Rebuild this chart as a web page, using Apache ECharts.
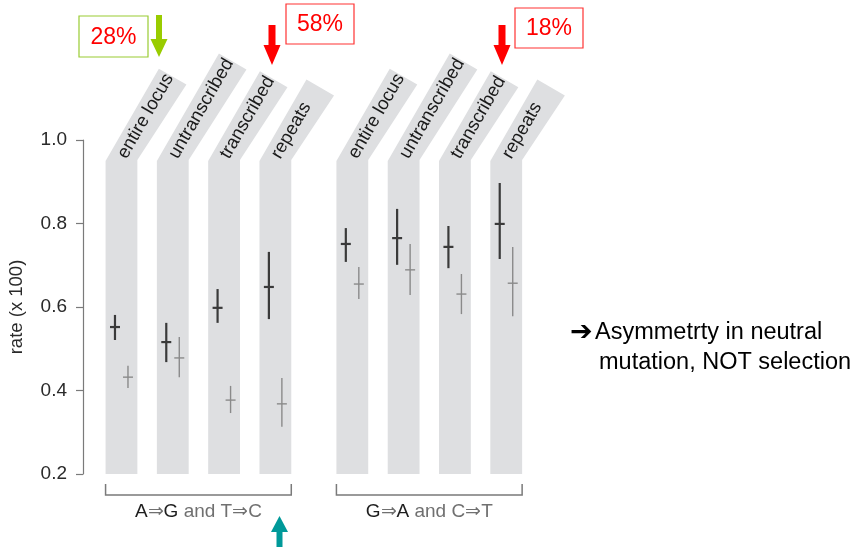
<!DOCTYPE html>
<html>
<head>
<meta charset="utf-8">
<script src="https://cdn.jsdelivr.net/npm/echarts@6/dist/echarts.min.js"></script>
<style>
  html, body { margin: 0; padding: 0; background: #ffffff; }
  #chart { width: 858px; height: 547px; }
</style>
</head>
<body>
<div id="chart"></div>
<script>
// Genomic regions shown in each panel group
const regionNames = ['entire locus', 'untranscribed', 'transcribed', 'repeats'];
// Position of each column on the horizontal value axis (gap between the two groups)
const columnPositions = [0, 1, 2, 3, 4.5, 5.5, 6.5, 7.5];
// Substitution groups: first/last column index and the rich-text label
const groupSpans = [[0, 3], [4, 7]];
const groupTexts = [
  '{k|A}{g|\u21D2}{k|G}{g| and T\u21D2C}',
  '{k|G}{g|\u21D2}{k|A}{g| and C\u21D2T}'
];
// y axis ticks
const yTicks = [0.2, 0.4, 0.6, 0.8, 1.0];

// First (dark) estimate per column: mean, lower and upper bound
const darkMean = [0.552, 0.516, 0.598, 0.648, 0.751, 0.765, 0.744, 0.799];
const darkLow  = [0.521, 0.468, 0.562, 0.571, 0.708, 0.701, 0.693, 0.715];
const darkHigh = [0.581, 0.562, 0.643, 0.732, 0.789, 0.835, 0.794, 0.897];
// Second (light) estimate per column
const lightMean = [0.432, 0.478, 0.377, 0.368, 0.655, 0.689, 0.631, 0.657];
const lightLow  = [0.406, 0.432, 0.346, 0.313, 0.619, 0.629, 0.583, 0.578];
const lightHigh = [0.459, 0.528, 0.411, 0.430, 0.696, 0.751, 0.679, 0.744];

// Percentage call-outs
const calloutTexts = ['28%', '58%', '18%'];
const noteLines = ['Asymmetrty in neutral', 'mutation, NOT selection'];

const FONT = '"Liberation Sans", Arial, Helvetica, sans-serif';
const BAND_COLOR = '#dedfe1';
const LABEL_SIZE = 18.5;
const ANGLE = Math.PI / 3;           // slant of the column heads
const BAND_UNITS = 0.62;             // column width in axis units

const measureCtx = document.createElement('canvas').getContext('2d');
function textWidth(str, size) {
  measureCtx.font = size + 'px ' + FONT;
  return measureCtx.measureText(str).width;
}

const columnData = columnPositions.map((p, i) => [p, i % regionNames.length]);
const darkData = columnPositions.map((p, i) => [p, darkMean[i], darkLow[i], darkHigh[i]]);
const lightData = columnPositions.map((p, i) => [p, lightMean[i], lightLow[i], lightHigh[i]]);
const groupData = groupSpans.map((s, i) => [columnPositions[s[0]], columnPositions[s[1]], i]);

// Grey column with a slanted head carrying the region name
function renderColumn(params, api) {
  const x = api.value(0);
  const name = regionNames[api.value(1)];
  const bottom = api.coord([x, yTicks[0]]);
  const top = api.coord([x, yTicks[yTicks.length - 1]]);
  const half = api.size([BAND_UNITS, 0])[0] / 2;
  const cx = bottom[0];
  const yb = top[1] + 21;
  const dir = [Math.cos(ANGLE), -Math.sin(ANGLE)];
  const perp = [Math.sin(ANGLE), Math.cos(ANGLE)];
  const w = textWidth(name, LABEL_SIZE);
  const len = Math.max(w + 12, 94);
  const bl = [cx - half, yb];
  const tl = [bl[0] + dir[0] * len, bl[1] + dir[1] * len];
  const tr = [tl[0] + perp[0] * 2 * half, tl[1] + perp[1] * 2 * half];
  const br = [cx + half, yb - 1];
  const start = [cx + dir[0] * 1, yb - 3 + dir[1] * 1];
  return {
    type: 'group',
    children: [
      {
        type: 'polygon',
        shape: { points: [[cx - half, bottom[1]], bl, tl, tr, br, [cx + half, bottom[1]]] },
        style: { fill: BAND_COLOR }
      },
      {
        type: 'text',
        x: start[0], y: start[1],
        rotation: ANGLE,
        style: {
          text: name, x: 0, y: 0,
          align: 'left', verticalAlign: 'middle',
          fontSize: LABEL_SIZE, fontFamily: FONT, fill: '#1a1a1a'
        }
      }
    ]
  };
}

// Vertical range with a short mark at the mean
function errorBarRenderer(shift, color, width) {
  return function (params, api) {
    const x = api.value(0);
    const m = api.coord([x, api.value(1)]);
    const lo = api.coord([x, api.value(2)]);
    const hi = api.coord([x, api.value(3)]);
    const px = m[0] + shift;
    return {
      type: 'group',
      children: [
        { type: 'line', shape: { x1: px, y1: hi[1], x2: px, y2: lo[1] }, style: { stroke: color, lineWidth: width } },
        { type: 'line', shape: { x1: px - 5, y1: m[1], x2: px + 5, y2: m[1] }, style: { stroke: color, lineWidth: width } }
      ]
    };
  };
}

// Bracket under each group with its substitution label
function renderGroup(params, api) {
  const a = api.coord([api.value(0), yTicks[0]]);
  const b = api.coord([api.value(1), yTicks[0]]);
  const half = api.size([BAND_UNITS, 0])[0] / 2;
  const x1 = a[0] - half, x2 = b[0] + half;
  const y0 = a[1];
  return {
    type: 'group',
    children: [
      {
        type: 'polyline',
        shape: { points: [[x1, y0 + 10], [x1, y0 + 21], [x2, y0 + 21], [x2, y0 + 10]] },
        style: { stroke: '#7a7a7a', lineWidth: 1.5, fill: null }
      },
      {
        type: 'text',
        x: (x1 + x2) / 2, y: y0 + 38,
        style: {
          text: groupTexts[api.value(2)], x: 0, y: 0,
          align: 'center', verticalAlign: 'middle',
          fontSize: 19, fontFamily: FONT,
          rich: {
            k: { fontSize: 19, fontFamily: FONT, fill: '#1e1e1e' },
            g: { fontSize: 19, fontFamily: FONT, fill: '#707070' }
          }
        }
      }
    ]
  };
}

// Block arrow; points toward yTip
function arrow(cx, yTail, yTip, color, shaftHalf, headHalf, headLen) {
  const d = yTip > yTail ? 1 : -1;
  const yb = yTip - d * headLen;
  return {
    type: 'polygon',
    shape: {
      points: [
        [cx - shaftHalf, yTail], [cx + shaftHalf, yTail], [cx + shaftHalf, yb],
        [cx + headHalf, yb], [cx, yTip], [cx - headHalf, yb], [cx - shaftHalf, yb]
      ]
    },
    style: { fill: color }
  };
}

function callout(x, y, w, h, text, border) {
  return [
    { type: 'rect', shape: { x: x, y: y, width: w, height: h }, style: { fill: '#ffffff', stroke: border, lineWidth: 1.2 } },
    {
      type: 'text', x: x + w / 2, y: y + h / 2 + 1,
      style: { text: text, align: 'center', verticalAlign: 'middle', fontSize: 23, fontFamily: FONT, fill: '#ff0000' }
    }
  ];
}

const chart = echarts.init(document.getElementById('chart'), null, { renderer: 'canvas' });

chart.setOption({
  backgroundColor: '#ffffff',
  animation: false,
  grid: { left: 83, top: 140, width: 461.7, bottom: 73, containLabel: false, outerBoundsMode: 'none' },
  xAxis: { type: 'value', min: -0.75, max: 8.25, show: false },
  yAxis: {
    type: 'value',
    min: yTicks[0], max: yTicks[yTicks.length - 1], interval: 0.2,
    name: 'rate (x 100)',
    nameLocation: 'middle',
    nameRotate: 90,
    nameGap: 57,
    nameTextStyle: { fontSize: 18.5, fontFamily: FONT, color: '#2a2a2a' },
    axisLine: { show: true, onZero: false, lineStyle: { color: '#7a7a7a', width: 1.2 } },
    axisTick: { show: true, inside: false, length: 7, lineStyle: { color: '#7a7a7a', width: 1.2 } },
    axisLabel: {
      margin: 16, fontSize: 19, fontFamily: FONT, color: '#2a2a2a',
      formatter: v => v.toFixed(1)
    },
    splitLine: { show: false }
  },
  series: [
    {
      type: 'custom', name: 'columns', clip: false, z: 1,
      renderItem: renderColumn,
      data: columnData
    },
    {
      type: 'custom', name: 'groups', clip: false, z: 1,
      renderItem: renderGroup,
      data: groupData
    },
    {
      type: 'custom', name: 'light', clip: false, z: 2,
      renderItem: errorBarRenderer(6.5, '#8a8a8a', 1.4),
      data: lightData
    },
    {
      type: 'custom', name: 'dark', clip: false, z: 3,
      renderItem: errorBarRenderer(-6.5, '#3a3a3a', 2.2),
      data: darkData
    }
  ],
  graphic: [
    ...callout(79, 16, 69, 41, calloutTexts[0], '#99cc33'),
    arrow(159, 15, 57, '#99cc00', 3, 8.5, 18),
    ...callout(286, 4, 68, 40, calloutTexts[1], '#ff3333'),
    arrow(272, 25, 65, '#ff0000', 3.5, 8.5, 20),
    ...callout(515, 8, 68, 40, calloutTexts[2], '#ff3333'),
    arrow(502, 25, 65, '#ff0000', 3.5, 8.5, 20),
    arrow(279.5, 547, 516, '#009999', 3, 8.5, 16),
    {
      type: 'text', x: 570, y: 333,
      style: { text: '\u2794', align: 'left', verticalAlign: 'middle', fontSize: 27, fontFamily: '"DejaVu Sans", sans-serif', fontWeight: 'bold', fill: '#000000' }
    },
    {
      type: 'text', x: 595, y: 333,
      style: { text: noteLines[0], align: 'left', verticalAlign: 'middle', fontSize: 23.5, fontFamily: FONT, fill: '#000000' }
    },
    {
      type: 'text', x: 599, y: 363,
      style: { text: noteLines[1], align: 'left', verticalAlign: 'middle', fontSize: 23.5, fontFamily: FONT, fill: '#000000' }
    }
  ]
});
</script>
</body>
</html>
